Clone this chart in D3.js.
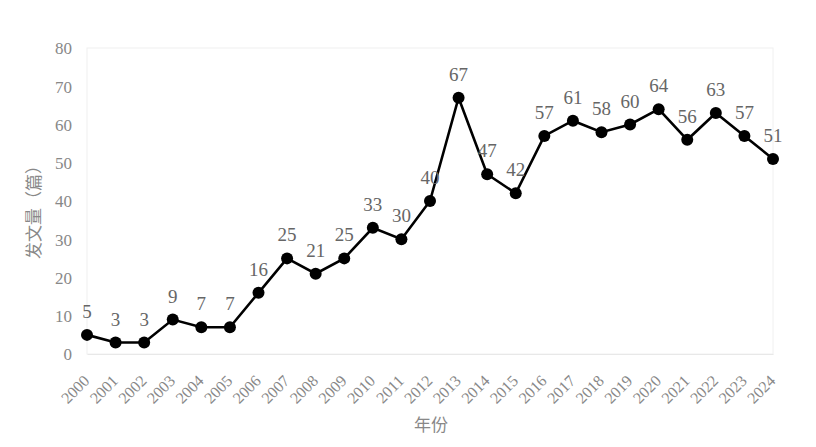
<!DOCTYPE html>
<html>
<head>
<meta charset="utf-8">
<script src="https://cdn.jsdelivr.net/npm/d3@7"></script>
<style>
  body { margin: 0; background: #fff; }
  svg { display: block; }
  .serif { font-family: "Liberation Serif", "Times New Roman", serif; }
</style>
</head>
<body>
<script>
var years = ["2000", "2001", "2002", "2003", "2004", "2005", "2006", "2007", "2008", "2009",
    "2010", "2011", "2012", "2013", "2014", "2015", "2016", "2017", "2018", "2019",
    "2020", "2021", "2022", "2023", "2024"]
var counts = [5, 3, 3, 9, 7, 7, 16, 25, 21, 25, 33, 30, 40, 67, 47, 42, 57, 61, 58, 60, 64, 56, 63, 57, 51]
var yTicks = [0, 10, 20, 30, 40, 50, 60, 70, 80]
var xTitle = "年份"
var yTitle = "发文量（篇）"

var margin = { top: 48, right: 43, bottom: 93, left: 87 }
var width = 816 - margin.left - margin.right
var height = 447 - margin.top - margin.bottom

var svg = d3.select("body").append("svg")
    .attr("width", 816)
    .attr("height", 447)

var g = svg.append("g")
    .attr("transform", "translate(" + [margin.left, margin.top] + ")")

var xScale = d3.scalePoint()
    .domain(years)
    .range([0, width])

var yScale = d3.scaleLinear()
    .domain([0, 80])
    .range([height, 0])

// faint plot frame
g.append("rect")
    .attr("x", 0).attr("y", 0)
    .attr("width", width).attr("height", height)
    .style("fill", "none")
    .style("stroke", "#f0f0f0")
    .style("stroke-width", 1)

// y axis
var yAxis = g.append("g")
    .call(d3.axisLeft(yScale).tickValues(yTicks).tickSize(0).tickPadding(15))
yAxis.attr("font-family", null).attr("font-size", null)
yAxis.select(".domain").remove()
yAxis.selectAll("text")
    .attr("class", "serif")
    .attr("dy", "0.34em")
    .style("font-size", "17px")
    .style("fill", "#888")

// x axis
var xAxis = g.append("g")
    .attr("transform", "translate(0," + height + ")")
    .call(d3.axisBottom(xScale).tickSize(0).tickPadding(0))
xAxis.attr("font-family", null).attr("font-size", null)
xAxis.select(".domain")
    .style("stroke", "#e8e8e8")
xAxis.selectAll("text")
    .attr("class", "serif")
    .attr("transform", "translate(-5,20) rotate(-45)")
    .attr("dy", "0.7em")
    .style("text-anchor", "end")
    .style("font-size", "16px")
    .style("fill", "#888")

var dataset = years.map((y, i) => {
    return { x: y, y: counts[i] }
})

var line = d3.line()
    .x(function (d) { return xScale(d.x); })
    .y(function (d) { return yScale(d.y); })

g.append("path")
    .datum(dataset)
    .attr("d", line)
    .style("fill", "none")
    .style("stroke", "#000")
    .style("stroke-width", 2.6)

g.selectAll(".dot")
    .data(dataset)
    .enter().append("circle")
    .attr("class", "dot")
    .attr("cx", d => xScale(d.x))
    .attr("cy", d => yScale(d.y))
    .attr("r", 6)
    .style("fill", "#000")

g.selectAll(".label")
    .data(dataset)
    .enter().append("text")
    .attr("class", "label serif")
    .attr("x", d => xScale(d.x))
    .attr("y", d => yScale(d.y) - 17)
    .style("text-anchor", "middle")
    .style("font-size", "19px")
    .style("fill", "#666")
    .text(d => d.y)

// axis titles
svg.append("text")
    .attr("x", 431)
    .attr("y", 431)
    .style("text-anchor", "middle")
    .style("font-family", "'Noto Sans CJK SC', sans-serif")
    .style("font-size", "17px")
    .style("fill", "#888")
    .text(xTitle)

svg.append("text")
    .attr("transform", "translate(" + [40, 208] + ") rotate(-90)")
    .style("text-anchor", "middle")
    .style("font-family", "'Noto Sans CJK SC', sans-serif")
    .style("font-size", "17px")
    .style("fill", "#888")
    .text(yTitle)
</script>
</body>
</html>
